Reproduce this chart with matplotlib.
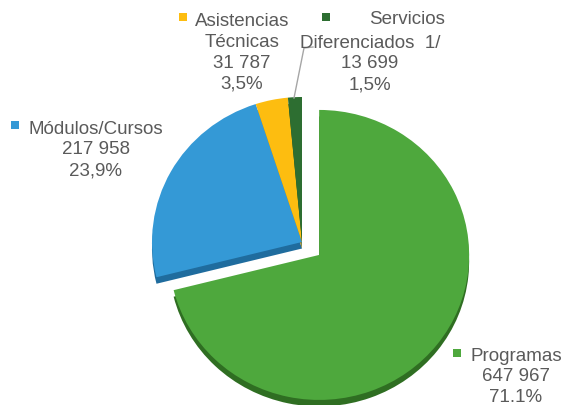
import matplotlib
matplotlib.use("Agg")
import matplotlib.pyplot as plt
from matplotlib.patches import Rectangle

plt.rcParams['font.family'] = ['Liberation Sans', 'DejaVu Sans']

categories = ["Programas", "Módulos/Cursos", "Asistencias Técnicas", "Servicios Diferenciados 1/"]
values = [647967, 217958, 31787, 13699]
value_labels = ["647 967", "217 958", "31 787", "13 699"]
pct_labels = ["71.1%", "23,9%", "3,5%", "1,5%"]
colors = ["#4ea83d", "#3499d6", "#fdbd10", "#2d6e31"]
shadow_colors = ["#2f6e22", "#1f6c9e", "#b58608", "#1b4a1d"]
explode = [0.145, 0, 0, 0]

fig = plt.figure(figsize=(5.61, 4.06), dpi=100)
ax = fig.add_axes([0, 0, 1, 1])
depth = 0.045
ax.pie(values, colors=shadow_colors, startangle=90, counterclock=False,
       explode=explode, center=(0, -depth), wedgeprops=dict(linewidth=0))
ax.pie(values, colors=colors, startangle=90, counterclock=False,
       explode=explode, center=(0, 0), wedgeprops=dict(linewidth=0))
ax.set_aspect('auto')
ax.set_xlim(-302 / 150, 259 / 150)
ax.set_ylim(-163 / 145, 243 / 145)
ax.axis('off')

# overlay in pixel coordinates for labels
ov = fig.add_axes([0, 0, 1, 1], facecolor='none')
ov.set_xlim(0, 561)
ov.set_ylim(406, 0)
ov.axis('off')

tc = "#5a5a5a"
fs = 13.5
ls = 1.3

def key(x, y, c):
    ov.add_patch(Rectangle((x, y), 8, 8, facecolor=c, edgecolor='none'))

# Asistencias Técnicas
key(179, 14, colors[2])
ov.text(242, 53, "Asistencias\nTécnicas\n" + value_labels[2] + "\n" + pct_labels[2],
        ha='center', va='center', multialignment='center', fontsize=fs, color=tc, linespacing=ls)

# Servicios Diferenciados
key(322, 14, colors[3])
ov.text(407, 19, "Servicios", ha='center', va='center', fontsize=fs, color=tc)
ov.text(370, 64, "Diferenciados  1/\n" + value_labels[3] + "\n" + pct_labels[3],
        ha='center', va='center', multialignment='center', fontsize=fs, color=tc, linespacing=ls)

# Módulos/Cursos
key(11, 122, colors[1])
ov.text(96, 150, categories[1] + "\n" + value_labels[1] + "\n" + pct_labels[1],
        ha='center', va='center', multialignment='center', fontsize=fs, color=tc, linespacing=ls)

# Programas
key(453, 350, colors[0])
ov.text(516, 377, categories[0] + "\n" + value_labels[0] + "\n" + pct_labels[0],
        ha='center', va='center', multialignment='center', fontsize=fs, color=tc, linespacing=ls)

# leader line
ov.plot([294, 304, 313], [99, 49, 48], color="#a6a6a6", linewidth=1)

fig.savefig("out.png", dpi=100)
